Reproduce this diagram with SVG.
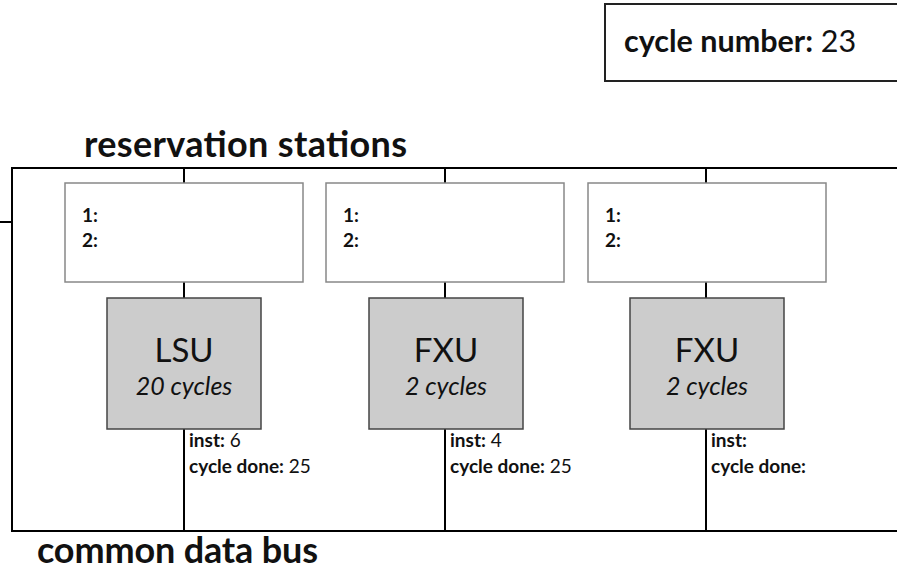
<svg xmlns="http://www.w3.org/2000/svg" width="897" height="571" viewBox="0 0 897 571">
<style>
text{font-family:Lato,"Noto Sans","Liberation Sans",sans-serif;fill:#111}
.b{font-weight:bold}
.title{font-size:36px;font-weight:bold}
.rs{fill:#fff;stroke:#888;stroke-width:1.5}
.fu{fill:#cccccc;stroke:#444;stroke-width:1.5}
.bus{fill:none;stroke:#000;stroke-width:2}
.sm{font-size:19px}
.unit{font-size:33px;text-anchor:middle}
.cyc{font-size:25px;font-style:italic;text-anchor:middle}
</style>
<rect width="897" height="571" fill="#fff"/>
<g id="cycle-box">
<rect x="605" y="4" width="300" height="77" fill="#fff" stroke="#222" stroke-width="2"/>
<text x="624" y="52" font-size="30.5"><tspan class="b">cycle number:</tspan> 23</text>
</g>
<text class="title" x="84" y="157" textLength="323">reservation stations</text>
<text class="title" x="37" y="563" textLength="281">common data bus</text>
<g id="connectors">
<path class="bus" d="M897 168H12V531H897M0 222H12"/>
<path class="bus" d="M184 168V183M184 282V298M184 429V531"/>
<path class="bus" d="M445 168V183M445 282V298M445 429V531"/>
<path class="bus" d="M706 168V183M706 282V298M706 429V531"/>
</g>
<g id="rs1"><rect class="rs" x="65" y="183" width="238" height="99"/>
<text class="b sm" x="82" y="222">1:</text><text class="b sm" x="82" y="247">2:</text></g>
<g id="rs2"><rect class="rs" x="326" y="183" width="238" height="99"/>
<text class="b sm" x="343" y="222">1:</text><text class="b sm" x="343" y="247">2:</text></g>
<g id="rs3"><rect class="rs" x="588" y="183" width="238" height="99"/>
<text class="b sm" x="605" y="222">1:</text><text class="b sm" x="605" y="247">2:</text></g>
<g id="lsu"><rect class="fu" x="107" y="298" width="154" height="131"/>
<text class="unit" x="184" y="362">LSU</text><text class="cyc" x="184" y="395">20 cycles</text>
<text class="sm" x="189" y="447"><tspan class="b">inst:</tspan> 6</text>
<text class="sm" x="189" y="473"><tspan class="b">cycle done:</tspan> 25</text></g>
<g id="fxu1"><rect class="fu" x="369" y="298" width="154" height="131"/>
<text class="unit" x="446" y="362">FXU</text><text class="cyc" x="446" y="395">2 cycles</text>
<text class="sm" x="450" y="447"><tspan class="b">inst:</tspan> 4</text>
<text class="sm" x="450" y="473"><tspan class="b">cycle done:</tspan> 25</text></g>
<g id="fxu2"><rect class="fu" x="630" y="298" width="154" height="131"/>
<text class="unit" x="707" y="362">FXU</text><text class="cyc" x="707" y="395">2 cycles</text>
<text class="sm" x="711" y="447"><tspan class="b">inst:</tspan></text>
<text class="sm" x="711" y="473"><tspan class="b">cycle done:</tspan></text></g>
</svg>
